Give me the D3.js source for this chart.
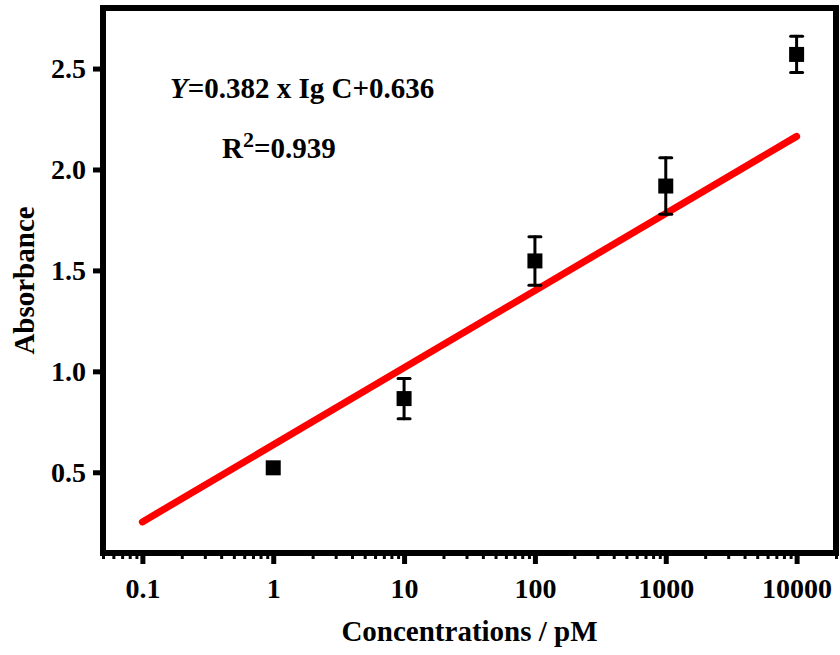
<!DOCTYPE html>
<html>
<head>
<meta charset="utf-8">
<script src="https://cdn.jsdelivr.net/npm/d3@7"></script>
<style>
  body { margin: 0; background: #fff; }
  svg text { font-family: "Liberation Serif", "Times New Roman", serif; font-weight: bold; fill: #000; }
</style>
</head>
<body>
<div id="chart"></div>
<script>
// data
var concentrations = [1, 10, 100, 1000, 10000];
var absorbance = [0.522, 0.865, 1.547, 1.918, 2.57];
var errors = [0.02, 0.1, 0.12, 0.14, 0.09];

var xTicks = [0.1, 1, 10, 100, 1000, 10000];
var xTickLabels = ['0.1', '1', '10', '100', '1000', '10000'];
var yTicks = [0.5, 1.0, 1.5, 2.0, 2.5];

var slope = 0.382, intercept = 0.636;
var fitRange = [0.1, 10000];

var W = 840, H = 655;
var pLeft = 103, pRight = 836, pTop = 8, pBottom = 553;

var svg = d3.select('#chart').append('svg')
    .attr('width', W)
    .attr('height', H);

var x = d3.scaleLog().domain([0.05, 20000]).range([pLeft, pRight]);
var y = d3.scaleLinear().domain([0.1, 2.8]).range([pBottom, pTop]);

// minor ticks 2..9 each decade
var minor = [];
[0.01, 0.1, 1, 10, 100, 1000, 10000].forEach(function(d) {
  for (var k = 2; k <= 9; k++) {
    var v = d * k;
    if (v >= 0.05 && v <= 20000) minor.push(v);
  }
});

var xMinor = svg.append('g')
    .attr('transform', 'translate(0,' + pBottom + ')')
    .call(d3.axisBottom(x).tickValues(minor).tickSize(6).tickFormat(''));
xMinor.select('.domain').remove();
xMinor.selectAll('line').attr('stroke', '#000').attr('stroke-width', 3);

var xAxis = svg.append('g')
    .attr('transform', 'translate(0,' + pBottom + ')')
    .call(d3.axisBottom(x).tickValues(xTicks).tickSize(11).tickPadding(14)
      .tickFormat(function(d, i) { return xTickLabels[i]; }));
xAxis.select('.domain').remove();
xAxis.selectAll('line').attr('stroke', '#000').attr('stroke-width', 5);
xAxis.selectAll('text').style('font-size', '28px').attr('fill', '#000');

var yAxis = svg.append('g')
    .attr('transform', 'translate(' + pLeft + ',0)')
    .call(d3.axisLeft(y).tickValues(yTicks).tickSize(10).tickPadding(7)
      .tickFormat(d3.format('.1f')));
yAxis.select('.domain').remove();
yAxis.selectAll('line').attr('stroke', '#000').attr('stroke-width', 5);
yAxis.selectAll('text').style('font-size', '28px').attr('fill', '#000');

// frame
svg.append('rect')
    .attr('x', pLeft)
    .attr('y', pTop)
    .attr('width', pRight - pLeft)
    .attr('height', pBottom - pTop)
    .attr('fill', 'none')
    .attr('stroke', '#000')
    .attr('stroke-width', 6);

// fit line
var line = d3.line()
    .x(function(d) { return x(d); })
    .y(function(d) { return y(slope * Math.log10(d) + intercept); });

svg.append('path')
    .datum(fitRange)
    .attr('d', line)
    .attr('stroke', '#f00')
    .attr('stroke-width', 7)
    .attr('stroke-linecap', 'round')
    .attr('fill', 'none');

// error bars
var pts = concentrations.map(function(c, i) {
  return { c: c, v: absorbance[i], e: errors[i] };
});

var eb = svg.append('g').selectAll('g')
    .data(pts)
    .enter()
    .append('g')
    .attr('stroke', '#000')
    .attr('stroke-width', 3)
    .attr('stroke-linecap', 'round');

eb.append('line')
    .attr('x1', function(d) { return x(d.c); })
    .attr('x2', function(d) { return x(d.c); })
    .attr('y1', function(d) { return y(d.v + d.e); })
    .attr('y2', function(d) { return y(d.v - d.e); });

eb.filter(function(d) { return d.e > 0.05; }).each(function(d) {
  var g = d3.select(this);
  [d.v + d.e, d.v - d.e].forEach(function(v) {
    g.append('line')
      .attr('x1', x(d.c) - 6)
      .attr('x2', x(d.c) + 6)
      .attr('y1', y(v))
      .attr('y2', y(v));
  });
});

svg.append('g').selectAll('rect')
    .data(pts)
    .enter()
    .append('rect')
    .attr('x', function(d) { return x(d.c) - 7.5; })
    .attr('y', function(d) { return y(d.v) - 7.5; })
    .attr('width', 15)
    .attr('height', 15)
    .attr('fill', '#000');

// annotations
var eq = svg.append('text')
    .attr('x', 170)
    .attr('y', 98)
    .style('font-size', '29px');
eq.append('tspan').style('font-style', 'italic').text('Y');
eq.append('tspan').text('=0.382 x Ig C+0.636');

var r2 = svg.append('text')
    .attr('x', 222)
    .attr('y', 158)
    .style('font-size', '29px');
r2.append('tspan').text('R');
r2.append('tspan').attr('dy', -11).style('font-size', '22px').text('2');
r2.append('tspan').attr('dy', 11).text('=0.939');

// axis titles
svg.append('text')
    .attr('x', (pLeft + pRight) / 2)
    .attr('y', 641)
    .attr('text-anchor', 'middle')
    .style('font-size', '29px')
    .text('Concentrations / pM');

svg.append('text')
    .attr('transform', 'translate(34,' + (pTop + pBottom) / 2 + ') rotate(-90)')
    .attr('text-anchor', 'middle')
    .style('font-size', '29px')
    .text('Absorbance');
</script>
</body>
</html>
